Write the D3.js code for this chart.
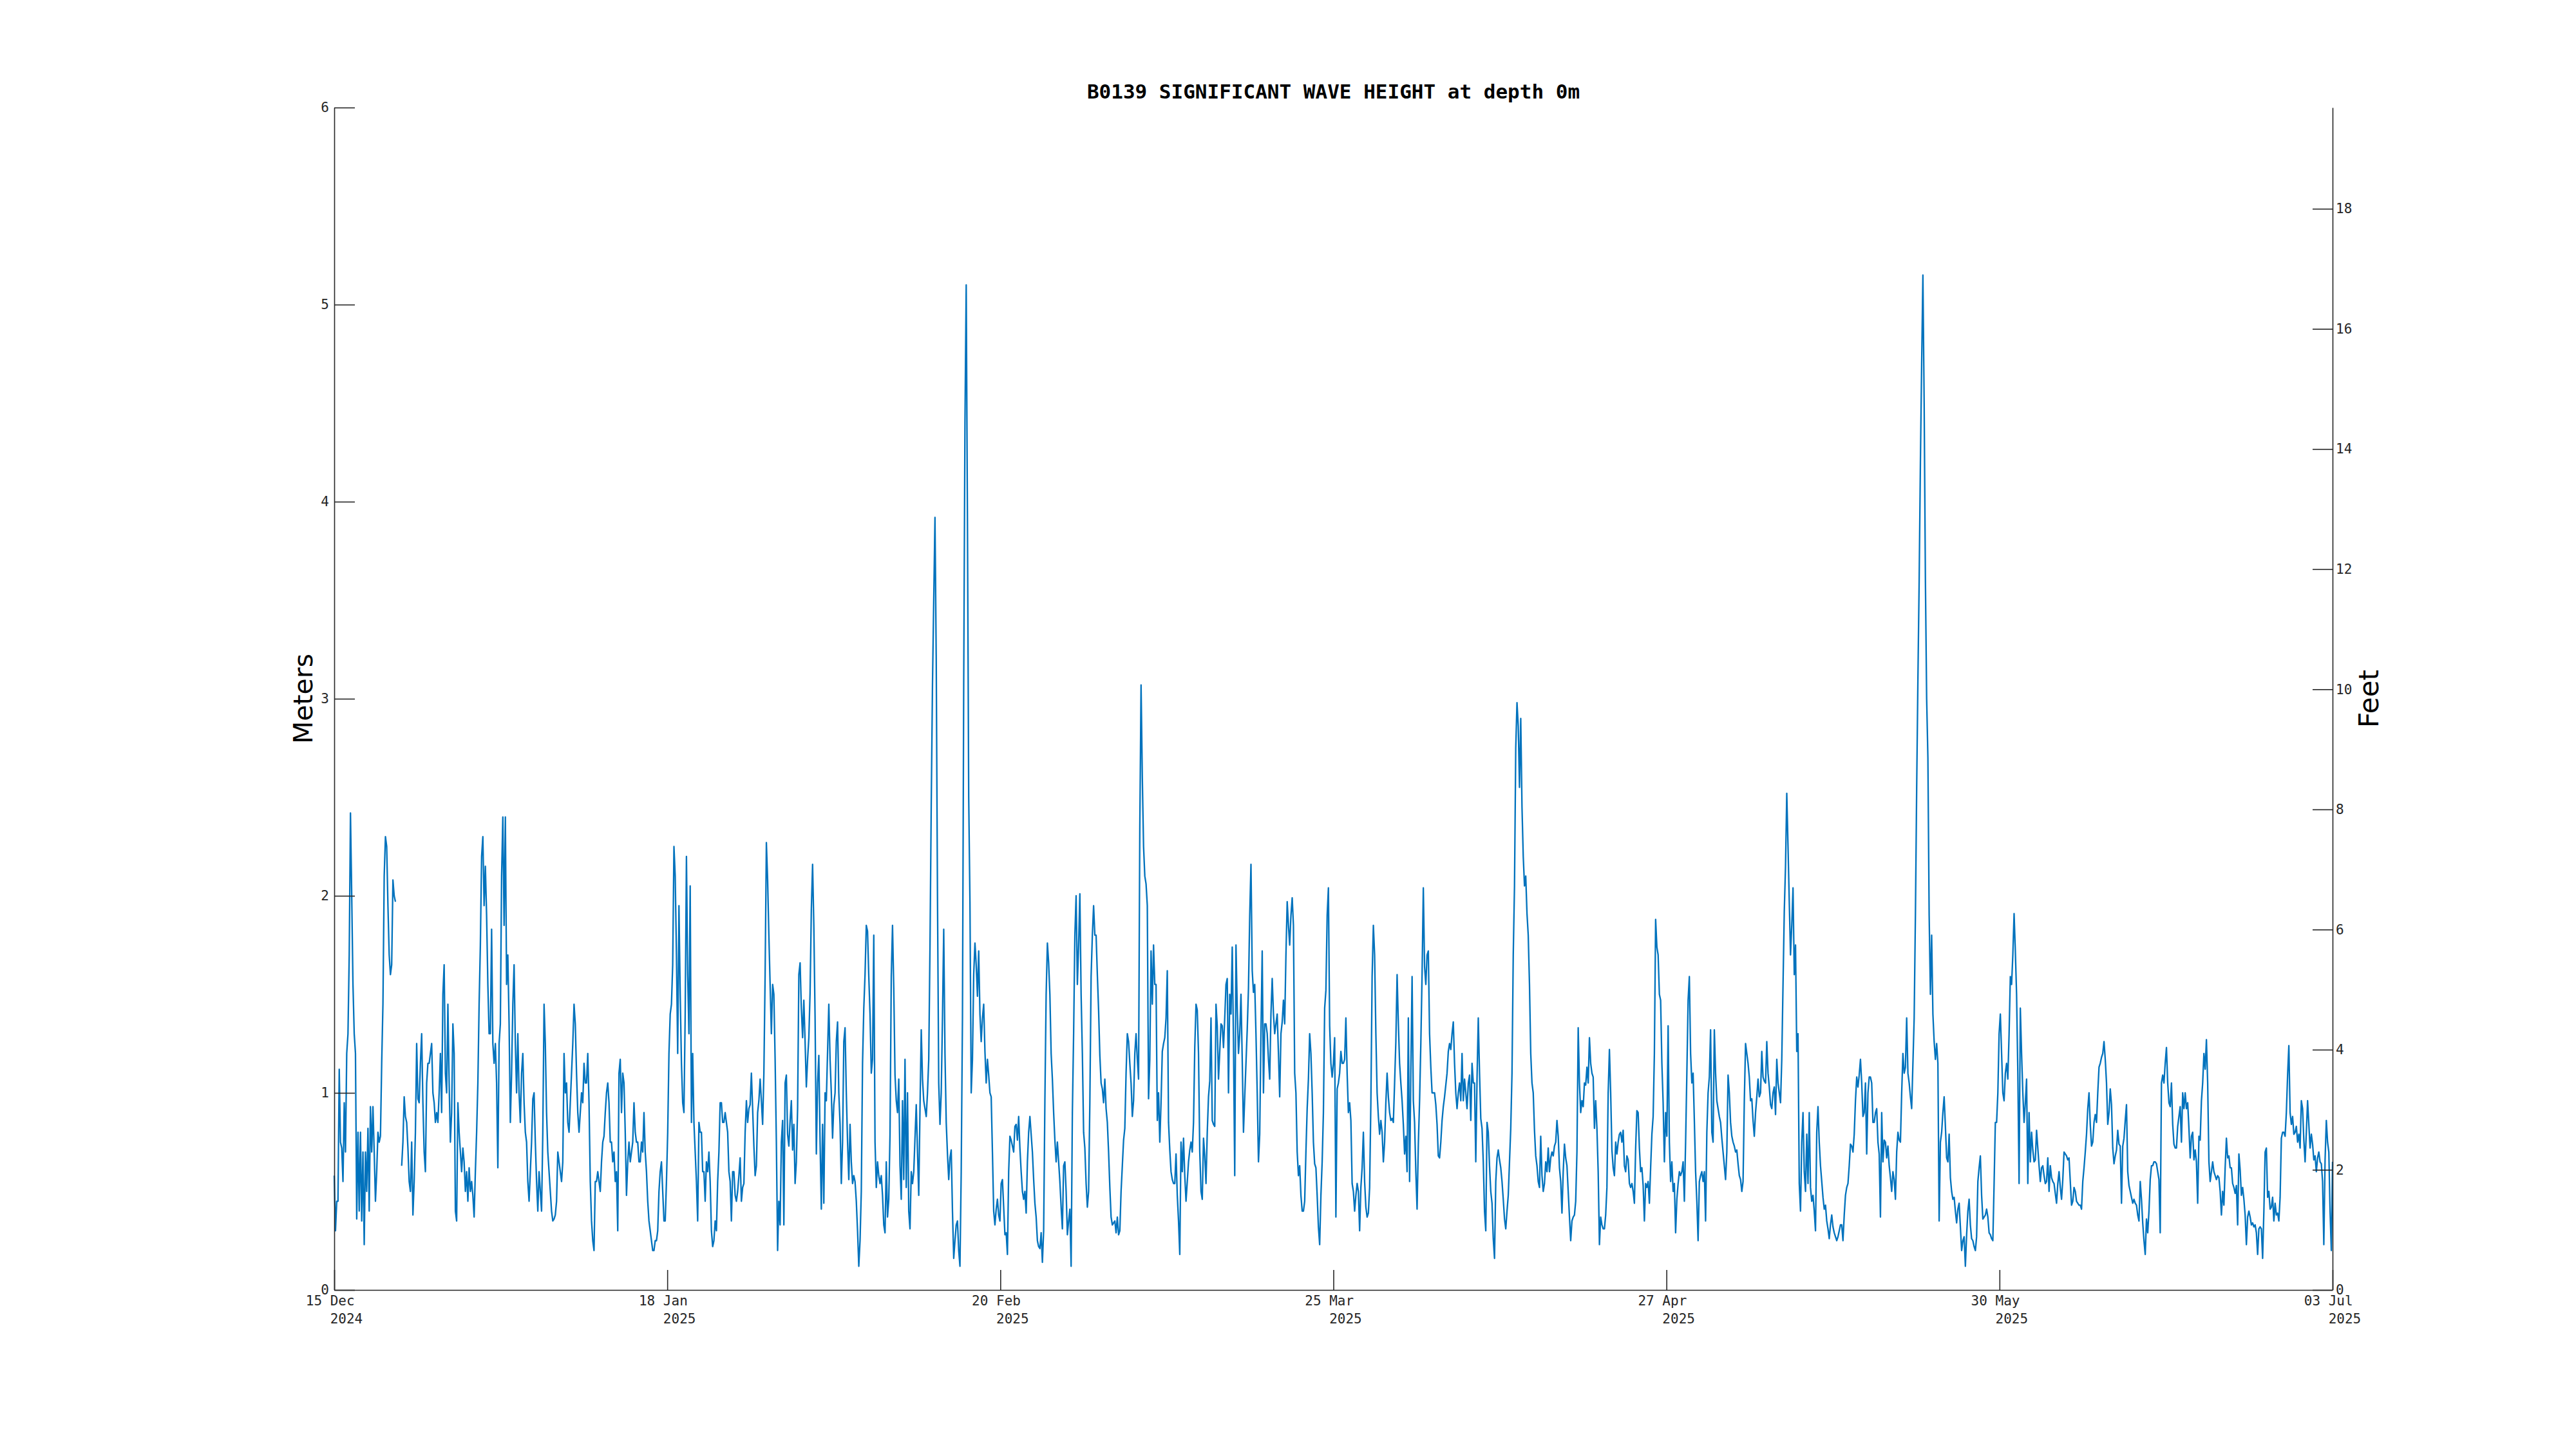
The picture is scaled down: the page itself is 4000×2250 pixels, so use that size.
<!DOCTYPE html>
<html>
<head>
<meta charset="utf-8">
<title>B0139 Significant Wave Height</title>
<script src="https://cdn.jsdelivr.net/npm/d3@7"></script>
<style>
  body { margin: 0; background: #ffffff; }
</style>
</head>
<body>
<div id="chart"></div>
<script>
// Significant wave height (m), one value every 3 hours (8 per day), from 15 Dec 2024 00:00
// null = no data
var hsDecJan = [
  0.58,0.3,0.45,0.45,1.12,0.75,0.72,0.55,
  0.95,0.7,1.2,1.3,1.7,2.42,2.0,1.55,
  1.3,1.2,0.36,0.8,0.4,0.8,0.35,0.7,
  0.23,0.7,0.5,0.82,0.4,0.93,0.7,0.93,
  0.7,0.45,0.6,0.8,0.75,0.78,1.15,1.45,
  2.1,2.3,2.25,1.95,1.7,1.6,1.65,2.08,
  2.0,1.97,null,null,null,null,0.63,0.75,
  0.98,0.88,0.85,0.72,0.55,0.5,0.75,0.38,
  0.55,0.8,1.25,0.97,0.95,1.15,1.3,0.95,
  0.7,0.6,1.05,1.15,1.15,1.2,1.25,1.0,
  0.95,0.85,0.9,0.85,1.0,1.2,0.9,1.5,
  1.65,1.1,1.0,1.45,1.05,0.75,0.9,1.35,
  1.2,0.4,0.35,0.95,0.8,0.7,0.6,0.72,
  0.65,0.5,0.6,0.45,0.62,0.5,0.55,0.48,
  0.37,0.6,0.8,1.05,1.45,1.75,2.2,2.3,
  1.95,2.15,1.9,1.55,1.3,1.3,1.83,1.25,
  1.15,1.25,1.05,0.62,1.25,1.35,2.1,2.4,
  1.85,2.4,1.55,1.7,1.35,0.85,1.1,1.45,
  1.65,1.25,1.0,1.3,1.0,0.85,1.1,1.2,
  0.95,0.8,0.75,0.55,0.45,0.6,0.75,0.97,
  1.0,0.75,0.55,0.4,0.6,0.5,0.4,0.8,
  1.45,1.25,0.9,0.7,0.6,0.5,0.4,0.35,
  0.36,0.38,0.45,0.7,0.65,0.6,0.55,0.65,
  1.2,1.0,1.05,0.85,0.8,0.95,1.1,1.25,
  1.45,1.35,1.1,0.9,0.8,0.9,1.0,0.95,
  1.15,1.05,1.05,1.2,0.95,0.55,0.35,0.25,
  0.2,0.55,0.55,0.6,0.55,0.5,0.65,0.75,
  0.78,0.9,1.0,1.05,0.95,0.75,0.75,0.65,
  0.7,0.55,0.6,0.3,1.1,1.17,0.9,1.1,
  1.05,0.8,0.48,0.65,0.75,0.65,0.7,0.75,
  0.95,0.8,0.75,0.75,0.65,0.65,0.75,0.7,
  0.9,0.7,0.6,0.45,0.35,0.3,0.25,0.2,
  0.2,0.25,0.25,0.3,0.5,0.6,0.65,0.5,
  0.35,0.35,0.55,0.8,1.2,1.4,1.45,1.65,
  2.25,2.1,1.7,1.2,1.95,1.5,1.15,0.95,
  0.9,1.4,2.2,1.6,1.3,2.05,0.85,1.2,
  0.85,0.7,0.55,0.35,0.85,0.8,0.8,0.6,
  0.6,0.45,0.65,0.6,0.7,0.55,0.3,0.22,
  0.25,0.35,0.3,0.55,0.7,0.95,0.95,0.85,
  0.85,0.9,0.85,0.8,0.6,0.55,0.35,0.6
];

var hsJanMar = [
  0.6,0.48,0.45,0.5,0.58,0.67,0.45,0.52,
  0.54,0.8,0.96,0.85,0.92,0.94,1.1,0.92,
  0.73,0.58,0.63,0.9,0.96,1.07,0.96,0.84,
  1.1,1.6,2.27,2.08,1.8,1.55,1.3,1.55,
  1.5,1.17,0.75,0.2,0.45,0.33,0.75,0.86,
  0.33,1.05,1.09,0.79,0.73,0.86,0.96,0.71,
  0.84,0.54,0.65,0.92,1.6,1.66,1.43,1.28,
  1.47,1.26,1.03,1.17,1.28,1.51,1.93,2.16,
  1.85,1.38,0.69,1.05,1.19,0.75,0.41,0.84,
  0.44,1.0,0.96,1.21,1.45,1.17,1.0,0.77,
  0.94,1.0,1.26,1.36,1.0,0.84,0.54,0.75,
  1.26,1.33,1.0,0.75,0.56,0.84,0.65,0.54,
  0.58,0.55,0.45,0.3,0.12,0.25,0.5,1.15,
  1.43,1.6,1.85,1.82,1.59,1.4,1.1,1.17,
  1.8,0.75,0.52,0.65,0.58,0.54,0.58,0.48,
  0.33,0.29,0.65,0.37,0.46,0.79,1.59,1.85,
  1.53,1.09,0.96,0.9,1.07,0.63,0.46,0.96,
  0.56,1.17,0.52,1.0,0.4,0.31,0.6,0.54,
  0.6,0.77,0.94,0.7,0.48,0.92,1.32,1.07,
  0.96,0.92,0.88,1.0,1.17,1.74,2.46,3.07,
  3.5,3.92,3.2,2.0,1.05,0.84,1.0,1.38,
  1.83,1.2,0.85,0.69,0.56,0.67,0.71,0.4,
  0.16,0.25,0.33,0.35,0.2,0.12,0.6,1.38,
  3.07,4.4,5.1,3.9,2.5,1.97,1.0,1.17,
  1.6,1.76,1.65,1.49,1.72,1.4,1.26,1.38,
  1.45,1.21,1.05,1.17,1.09,1.0,0.98,0.7,
  0.4,0.33,0.41,0.46,0.38,0.35,0.54,0.56,
  0.42,0.28,0.29,0.18,0.6,0.78,0.76,0.73,
  0.7,0.83,0.84,0.76,0.88,0.72,0.6,0.5,
  0.46,0.5,0.39,0.65,0.8,0.88,0.79,0.7,
  0.56,0.44,0.37,0.25,0.22,0.21,0.29,0.14,
  0.3,0.96,1.5,1.76,1.66,1.5,1.2,1.07,
  0.9,0.76,0.65,0.75,0.65,0.55,0.42,0.31,
  0.63,0.65,0.5,0.28,0.35,0.41,0.12,0.9,
  1.3,1.8,2.0,1.55,1.75,2.01,1.5,1.2,
  0.8,0.72,0.54,0.42,0.5,0.95,1.59,1.8,
  1.95,1.8,1.8,1.6,1.42,1.19,1.05,1.02,
  0.95,1.07,0.92,0.85,0.7,0.52,0.37,0.33,
  0.34,0.35,0.29,0.37,0.28,0.3,0.5,0.63,
  0.76,0.82,1.1,1.3,1.26,1.15,1.05,0.88
];

var hsMarApr = [
  0.96,1.2,1.3,1.17,1.07,2.35,3.07,2.6,
  2.25,2.1,2.06,1.95,0.97,1.17,1.72,1.45,
  1.75,1.55,1.55,0.86,1.0,0.75,0.95,1.21,
  1.25,1.28,1.38,1.62,0.85,0.71,0.6,0.56,
  0.54,0.54,0.69,0.48,0.35,0.18,0.75,0.6,
  0.77,0.58,0.45,0.55,0.65,0.71,0.75,0.7,
  0.85,1.23,1.45,1.42,1.2,0.7,0.5,0.46,
  0.77,0.68,0.54,0.8,0.98,1.06,1.38,0.86,
  0.84,0.83,1.45,1.34,1.07,1.21,1.35,1.34,
  1.23,1.38,1.55,1.58,1.0,1.5,1.4,1.74,
  1.26,0.58,1.75,1.43,1.2,1.3,1.5,1.17,
  0.8,0.98,1.15,1.32,1.53,1.9,2.16,1.62,
  1.51,1.55,1.3,1.0,0.65,0.79,1.3,1.72,
  1.0,1.35,1.35,1.3,1.17,1.07,1.4,1.58,
  1.4,1.3,1.35,1.4,1.2,0.98,1.3,1.36,
  1.47,1.35,1.7,1.97,1.85,1.75,1.9,1.99,
  1.85,1.1,1.0,0.7,0.58,0.63,0.48,0.4,
  0.4,0.45,0.7,0.92,1.07,1.3,1.2,1.0,
  0.75,0.64,0.62,0.48,0.32,0.23,0.48,0.65,
  0.9,1.43,1.52,1.9,2.04,1.34,1.15,1.08,
  1.15,1.28,0.37,1.02,1.05,1.1,1.21,1.15,
  1.15,1.17,1.38,1.1,0.9,0.95,0.86,0.54,
  0.5,0.4,0.48,0.54,0.5,0.3,0.52,0.62,
  0.8,0.55,0.42,0.37,0.39,0.52,0.95,1.59,
  1.85,1.7,1.3,1.0,0.88,0.79,0.86,0.8,
  0.65,0.75,0.95,1.1,0.98,0.9,0.86,0.87,
  0.85,1.05,1.26,1.6,1.35,1.15,1.05,0.96,
  0.84,0.69,0.78,0.6,1.38,0.55,1.1,1.59,
  0.96,0.85,0.6,0.41,0.74,0.96,1.25,1.6,
  2.04,1.64,1.55,1.7,1.72,1.3,1.13,1.0,
  1.0,1.0,0.94,0.84,0.68,0.67,0.75,0.86,
  0.93,0.98,1.04,1.1,1.21,1.25,1.22,1.3,
  1.36,1.15,1.0,0.92,1.0,1.05,0.96,1.2,
  0.96,1.07,1.0,0.92,1.05,1.09,0.86,1.15,
  1.05,1.05,0.65,1.07,1.38,1.1,0.87,0.82,
  0.65,0.4,0.3,0.85,0.8,0.63,0.5,0.44,
  0.26,0.16,0.55,0.67,0.71,0.66,0.62,0.55,
  0.46,0.36,0.31,0.4,0.48,0.65,0.82,1.1,
  1.7,2.05,2.75,2.98,2.86,2.55,2.9,2.45,
  2.2,2.05,2.1,1.91,1.8,1.55,1.2,1.05
];

var hsAprMay = [
  1.0,0.81,0.68,0.63,0.55,0.52,0.78,0.58,
  0.5,0.54,0.65,0.6,0.72,0.6,0.67,0.7,
  0.68,0.73,0.75,0.86,0.78,0.62,0.55,0.39,
  0.6,0.74,0.67,0.63,0.5,0.37,0.25,0.35,
  0.37,0.38,0.45,0.7,1.33,1.05,0.9,0.96,
  0.93,1.05,1.04,1.13,1.05,1.28,1.15,1.1,
  1.08,0.82,0.96,0.82,0.6,0.23,0.37,0.33,
  0.31,0.31,0.38,0.52,1.0,1.22,1.0,0.71,
  0.62,0.58,0.75,0.69,0.75,0.79,0.8,0.75,
  0.81,0.63,0.6,0.68,0.66,0.54,0.52,0.54,
  0.5,0.44,0.72,0.91,0.9,0.72,0.6,0.62,
  0.53,0.35,0.54,0.52,0.55,0.44,0.62,0.79,
  0.88,1.2,1.88,1.74,1.7,1.5,1.47,1.15,
  0.95,0.65,0.9,0.78,1.34,0.75,0.55,0.65,
  0.5,0.54,0.29,0.46,0.54,0.6,0.58,0.6,
  0.65,0.45,0.75,1.1,1.47,1.59,1.2,1.05,
  1.1,0.86,0.6,0.45,0.25,0.55,0.58,0.6,
  0.55,0.6,0.35,0.8,1.0,1.08,1.32,0.8,
  0.75,1.32,1.1,0.96,0.92,0.88,0.85,0.77,
  0.7,0.63,0.56,0.7,1.09,1.0,0.85,0.78,
  0.75,0.73,0.7,0.71,0.64,0.58,0.56,0.5,
  0.55,0.96,1.25,1.2,1.15,1.08,0.96,0.97,
  0.86,0.78,0.9,0.98,1.07,0.98,1.0,1.21,
  1.08,1.06,1.05,1.26,1.1,1.03,0.94,0.92,
  1.0,1.03,0.89,1.17,1.05,1.0,0.95,1.17,
  1.55,1.92,2.15,2.52,2.25,1.97,1.7,1.85,
  2.04,1.6,1.75,1.21,1.3,0.54,0.4,0.75,
  0.9,0.6,0.5,0.79,0.54,0.9,0.52,0.45,
  0.48,0.4,0.3,0.8,0.93,0.75,0.63,0.55,
  0.47,0.41,0.43,0.35,0.31,0.26,0.33,0.38,
  0.32,0.29,0.27,0.25,0.27,0.3,0.33,0.33,
  0.25,0.38,0.48,0.52,0.54,0.63,0.74,0.73,
  0.7,0.79,0.96,1.08,1.03,1.09,1.17,1.05,
  0.88,0.9,1.05,0.69,1.0,1.08,1.08,1.05,
  0.85,0.85,0.9,0.92,0.75,0.69,0.37,0.9,
  0.65,0.76,0.75,0.67,0.73,0.63,0.57,0.5,
  0.6,0.56,0.46,0.7,0.8,0.76,0.75,1.0,
  1.2,1.1,1.13,1.38,1.1,1.05,0.98,0.92,
  1.15,1.38,1.9,2.54,3.1,3.6,4.2,4.7,
  5.15,4.5,3.6,3.0,2.7,1.9,1.5,1.8
];

var hsMayJul = [
  1.4,1.26,1.17,1.25,1.15,0.35,0.75,0.8,
  0.9,0.98,0.83,0.67,0.65,0.79,0.57,0.5,
  0.46,0.47,0.4,0.34,0.41,0.44,0.32,0.2,
  0.25,0.27,0.12,0.28,0.4,0.46,0.33,0.26,
  0.25,0.22,0.2,0.27,0.55,0.62,0.68,0.48,
  0.36,0.37,0.38,0.41,0.37,0.29,0.28,0.26,
  0.25,0.54,0.85,0.85,1.0,1.3,1.4,1.2,
  1.0,0.96,1.1,1.15,1.07,1.3,1.59,1.55,
  1.7,1.91,1.72,1.5,1.1,0.54,1.43,1.2,
  1.0,0.85,0.95,1.07,0.54,0.9,0.65,0.8,
  0.71,0.65,0.66,0.81,0.72,0.63,0.55,0.62,
  0.63,0.58,0.54,0.55,0.67,0.5,0.63,0.57,
  0.55,0.54,0.49,0.44,0.54,0.6,0.52,0.46,
  0.56,0.7,0.69,0.68,0.66,0.67,0.55,0.43,
  0.45,0.52,0.5,0.45,0.44,0.43,0.43,0.41,
  0.55,0.62,0.7,0.79,0.92,1.0,0.84,0.73,
  0.75,0.85,0.89,0.85,1.0,1.13,1.15,1.18,
  1.2,1.26,1.17,1.05,0.84,0.9,1.02,0.94,
  0.72,0.64,0.68,0.71,0.81,0.74,0.73,0.44,
  0.73,0.77,0.86,0.94,0.6,0.53,0.5,0.47,
  0.44,0.46,0.44,0.43,0.38,0.35,0.55,0.46,
  0.34,0.25,0.18,0.36,0.29,0.4,0.56,0.63,
  0.63,0.65,0.65,0.64,0.6,0.56,0.29,1.05,
  1.09,1.05,1.15,1.23,1.05,0.95,0.93,1.05,
  0.84,0.74,0.72,0.72,0.83,0.88,0.93,0.75,
  1.0,0.92,1.0,0.92,0.95,0.82,0.67,0.78,
  0.8,0.66,0.71,0.65,0.44,0.78,0.76,0.96,
  1.05,1.2,1.12,1.27,1.05,0.65,0.55,0.6,
  0.65,0.6,0.58,0.56,0.58,0.57,0.5,0.38,
  0.5,0.43,0.62,0.77,0.67,0.68,0.62,0.62,
  0.54,0.52,0.49,0.53,0.33,0.69,0.61,0.48,
  0.52,0.46,0.38,0.23,0.37,0.4,0.37,0.33,
  0.34,0.32,0.33,0.29,0.18,0.31,0.32,0.31,
  0.16,0.4,0.7,0.72,0.47,0.5,0.41,0.42,
  0.47,0.35,0.44,0.38,0.39,0.35,0.47,0.77,
  0.8,0.8,0.78,0.9,1.09,1.24,0.9,0.84,
  0.88,0.79,0.8,0.83,0.75,0.79,0.72,0.96,
  0.92,0.76,0.65,0.8,0.96,0.84,0.72,0.79,
  0.74,0.66,0.68,0.6,0.67,0.7,0.65,0.64,
  0.55,0.23,0.66,0.86,0.75,0.7,0.4,0.2,
  0.65
];

// axis labels
var dateLabels = ["15 Dec", "18 Jan", "20 Feb", "25 Mar", "27 Apr", "30 May", "03 Jul"];
var yearLabels = ["2024", "2025", "2025", "2025", "2025", "2025", "2025"];
var meterTicks = [0, 1, 2, 3, 4, 5, 6];
var feetTicks = [0, 2, 4, 6, 8, 10, 12, 14, 16, 18];

var M_TO_FT = 3.28084;
var STEP_MS = 3 * 3600 * 1000;

var svgWidth = 4000;
var svgHeight = 2250;
var margin = { top: 167, right: 378, bottom: 247, left: 519 };
var width = svgWidth - margin.left - margin.right;
var height = svgHeight - margin.top - margin.bottom;

var axisColor = "#262626";
var monoFont = "'DejaVu Sans Mono', 'Liberation Mono', monospace";
var sansFont = "'DejaVu Sans', 'Liberation Sans', sans-serif";

var svg = d3.select("#chart")
  .append("svg")
  .attr("width", svgWidth)
  .attr("height", svgHeight)
  .style("background", "#ffffff");

var chartGroup = svg.append("g")
  .attr("transform", `translate(${margin.left}, ${margin.top})`);

var startTime = Date.UTC(2024, 11, 15);
var endTime = Date.UTC(2025, 6, 3);

var series = [].concat(hsDecJan, hsJanMar, hsMarApr, hsAprMay, hsMayJul)
  .map(function(v, i) {
    return { t: new Date(startTime + i * STEP_MS), v: v };
  });

// scales
var xTimeScale = d3.scaleUtc()
  .domain([new Date(startTime), new Date(endTime)])
  .range([0, width]);

var yMeterScale = d3.scaleLinear()
  .domain([0, 6])
  .range([height, 0]);

var yFeetScale = d3.scaleLinear()
  .domain([0, 6 * M_TO_FT])
  .range([height, 0]);

// six equal intervals across the record
var tickDates = dateLabels.map(function(d, k) {
  return new Date(startTime + k * (endTime - startTime) / 6);
});

// axes
var xAxis = d3.axisBottom(xTimeScale)
  .tickValues(tickDates)
  .tickSize(-31)
  .tickSizeOuter(0)
  .tickFormat("");

var leftAxis = d3.axisLeft(yMeterScale)
  .tickValues(meterTicks)
  .tickSize(-32)
  .tickSizeOuter(0)
  .tickPadding(8)
  .tickFormat(d3.format("d"));

var rightAxis = d3.axisRight(yFeetScale)
  .tickValues(feetTicks)
  .tickSize(-31)
  .tickSizeOuter(0)
  .tickPadding(5)
  .tickFormat(d3.format("d"));

function styleAxis(g) {
  g.attr("font-family", monoFont).attr("font-size", 21);
  g.selectAll("path.domain").attr("stroke", axisColor).attr("stroke-width", 1.6);
  g.selectAll(".tick line").attr("stroke", axisColor).attr("stroke-width", 1.6);
  g.selectAll(".tick text").attr("fill", axisColor);
}

// data line
var line = d3.line()
  .defined(function(d) { return d.v !== null; })
  .x(function(d) { return xTimeScale(d.t); })
  .y(function(d) { return yMeterScale(d.v); });

chartGroup.append("path")
  .datum(series)
  .attr("fill", "none")
  .attr("stroke", "#0072BD")
  .attr("stroke-width", 2.3)
  .attr("stroke-linejoin", "round")
  .attr("d", line);

chartGroup.append("g")
  .attr("transform", `translate(0, ${height})`)
  .call(xAxis)
  .call(styleAxis);

chartGroup.append("g")
  .call(leftAxis)
  .call(styleAxis);

chartGroup.append("g")
  .attr("transform", `translate(${width}, 0)`)
  .call(rightAxis)
  .call(styleAxis);

// two-line date labels (monospace block centred on the tick)
var charW = 0.602 * 21;
var dateText = chartGroup.append("g")
  .attr("font-family", monoFont)
  .attr("font-size", 21)
  .attr("fill", axisColor)
  .attr("text-anchor", "middle")
  .selectAll("text")
  .data(tickDates)
  .enter()
  .append("text")
  .attr("transform", d => `translate(${xTimeScale(d)}, ${height + 24})`);

dateText.append("tspan")
  .attr("x", -0.5 * charW)
  .attr("y", 0)
  .text((d, i) => dateLabels[i]);

dateText.append("tspan")
  .attr("x", 1.5 * charW)
  .attr("y", 28)
  .text((d, i) => yearLabels[i]);

// title
chartGroup.append("text")
  .attr("x", width / 2)
  .attr("y", -14)
  .attr("text-anchor", "middle")
  .attr("font-family", monoFont)
  .attr("font-weight", "bold")
  .attr("font-size", 31)
  .attr("fill", "#000000")
  .text("B0139 SIGNIFICANT WAVE HEIGHT at depth 0m");

// axis titles
chartGroup.append("text")
  .attr("transform", `translate(-34, ${height / 2}) rotate(-90)`)
  .attr("text-anchor", "middle")
  .attr("font-family", sansFont)
  .attr("font-size", 41)
  .attr("fill", "#000000")
  .text("Meters");

chartGroup.append("text")
  .attr("transform", `translate(${width + 71}, ${height / 2}) rotate(-90)`)
  .attr("text-anchor", "middle")
  .attr("font-family", sansFont)
  .attr("font-size", 42)
  .attr("fill", "#000000")
  .text("Feet");
</script>
</body>
</html>
